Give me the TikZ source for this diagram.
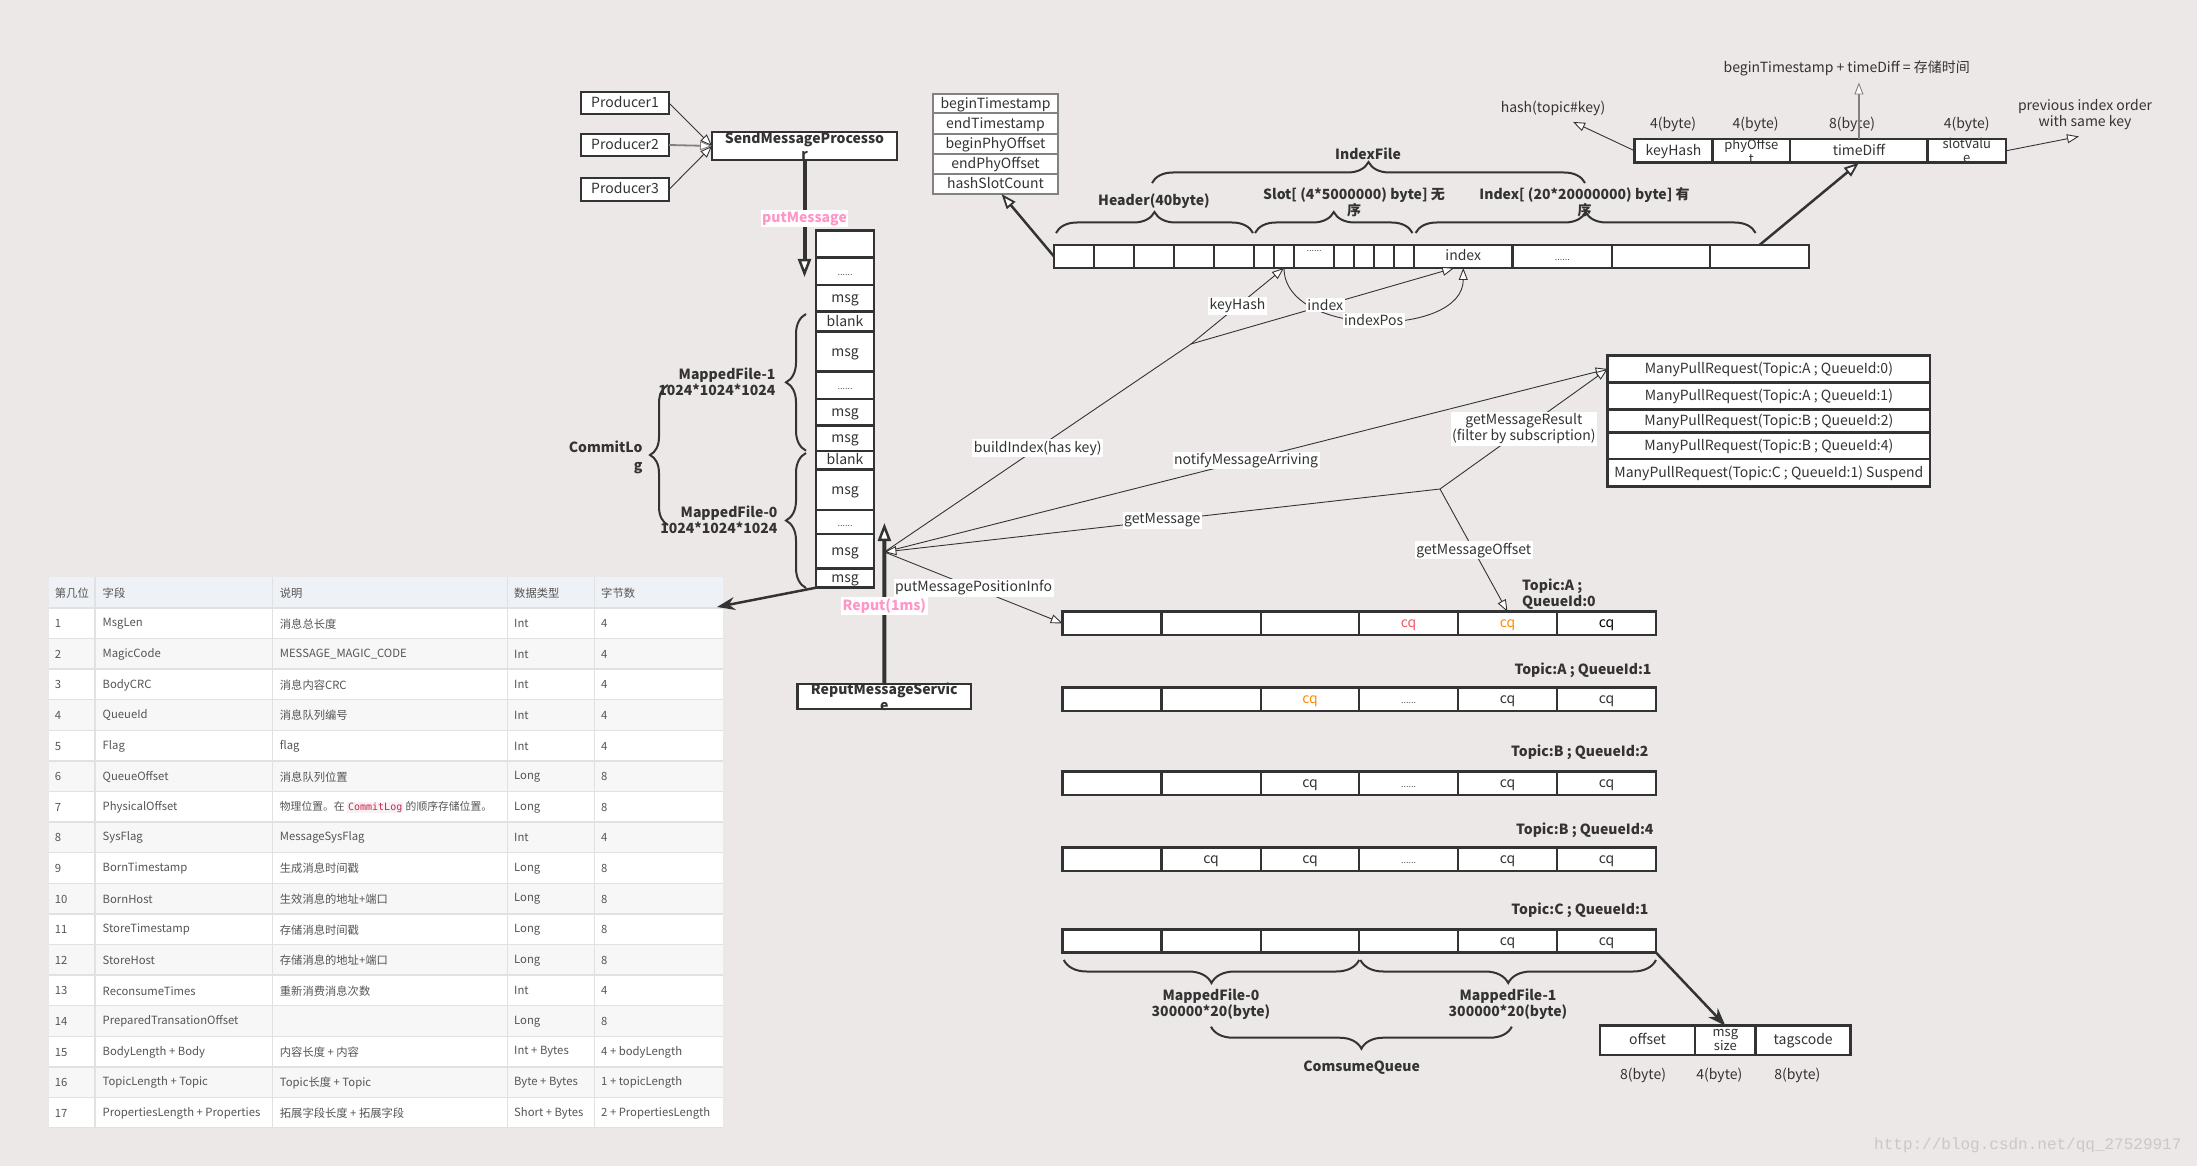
\documentclass[tikz,border=0pt]{standalone}
\usepackage{fontspec}
\setmainfont{Noto Sans CJK SC}
\newfontfamily\monof{DejaVu Sans Mono}
\newfontfamily\wmfont{Liberation Mono}
\newfontfamily\latf{Liberation Sans}
\usetikzlibrary{arrows.meta,decorations.pathreplacing,calc}
\definecolor{bgc}{RGB}{237,232,232}
\definecolor{dk}{RGB}{51,51,51}
\definecolor{pinkc}{RGB}{255,150,200}
\definecolor{cqred}{RGB}{240,90,110}
\definecolor{cqorg}{RGB}{255,140,0}
\definecolor{tgray}{RGB}{85,85,85}
\definecolor{thead}{RGB}{238,241,245}
\definecolor{trow}{RGB}{247,247,247}
\definecolor{tlinec}{RGB}{225,225,225}
\definecolor{codebg}{RGB}{249,242,244}
\definecolor{codefg}{RGB}{199,37,78}
\definecolor{hfgray}{RGB}{130,130,130}
\definecolor{wmc}{RGB}{205,198,198}
\newcommand\cel[6][]{\node[cell,minimum width=#4,minimum height=#5,anchor=north west,#1] (#2) at (#3) {#6};}
\newcommand\smdots{{\latf\fontsize{9}{10}\selectfont ......}}
\newcommand\qrow[8]{%
 \cel{#1c1}{1062.7,#2}{98.8}{23.3}{#3}%
 \cel{#1c2}{1161.5,#2}{99.3}{23.3}{#4}%
 \cel{#1c3}{1260.8,#2}{98.4}{23.3}{#5}%
 \cel{#1c4}{1359.2,#2}{98.8}{23.3}{#6}%
 \cel{#1c5}{1458,#2}{99}{23.3}{#7}%
 \cel{#1c6}{1557,#2}{99}{23.3}{#8}}
\newcommand\myrow[6]{%
  \pgfmathsetmacro\rtop{577.3+#1*30.6}%
  \pgfmathsetmacro\rmid{\rtop+15.8}%
  \pgfmathsetmacro\rbot{\rtop+30.6}%
  \ifnum#1=0\relax \fill[thead] (49,\rtop) rectangle (723,\rbot);%
  \else\ifodd#1\relax \fill[white] (49,\rtop) rectangle (723,\rbot);%
  \else \fill[trow] (49,\rtop) rectangle (723,\rbot);\fi
  \draw[tlinec, line width=1.5pt] (49,\rtop) -- (723,\rtop);\fi
  \node[tcell] (tr#1a) at (54.7,\rmid) {#2};%
  \node[tcell] (tr#1b) at (102.5,\rmid) {#3};%
  \node[tcell] (tr#1c) at (279.7,\rmid) {#4};%
  \node[tcell] (tr#1d) at (514,\rmid) {#5};%
  \node[tcell] (tr#1e) at (601,\rmid) {#6};%
}
\begin{document}
\begin{tikzpicture}[x=1pt,y=-1pt,
  every node/.style={font=\fontsize{14}{16}\selectfont, text=dk},
  cell/.style={draw=dk, line width=2.5pt, fill=white, inner sep=0pt, outer sep=0pt, text height=11pt, text depth=2pt},
  hfcell/.style={draw=hfgray, line width=1.8pt, fill=white, inner sep=0pt, outer sep=0pt},
  conn/.style={draw=dk, line width=0.9pt},
  oarr/.style={-{Triangle[length=12pt,width=9pt,fill=white,line width=0.9pt]}},
  thk/.style={draw=dk, line width=4pt},
  tharr/.style={-{Triangle[length=18pt,width=13pt,fill=white,line width=2.5pt]}},
  thk2/.style={draw=dk, line width=2.5pt},
  oarr2/.style={-{Triangle[length=15pt,width=11pt,fill=white,line width=1.8pt]}},
  farr/.style={-{Stealth[length=18pt,width=13pt]}},
  lbl/.style={fill=white, inner sep=1.5pt},
  plbl/.style={fill=white, inner sep=1.5pt, text=pinkc, font=\bfseries\fontsize{14}{16}\selectfont},
  blbl/.style={font=\bfseries\fontsize{14}{16}\selectfont, align=center},
  brc/.style={draw=dk, line width=2pt, decorate, decoration={brace, amplitude=#1}},
  brc/.default=20pt,
  tcell/.style={anchor=west, inner sep=0pt, text=tgray, font=\fontsize{11.3}{13}\selectfont},
  dots/.style={font=\latf\fontsize{9}{10}\selectfont},
]
\useasboundingbox (0,0) rectangle (2197,1166);
\fill[bgc] (0,0) rectangle (2197,1166);

% ---------- table ----------
\myrow{0}{第几位}{字段}{说明}{数据类型}{字节数}
\myrow{1}{1}{MsgLen}{消息总长度}{Int}{4}
\myrow{2}{2}{MagicCode}{MESSAGE\_MAGIC\_CODE}{Int}{4}
\myrow{3}{3}{BodyCRC}{消息内容CRC}{Int}{4}
\myrow{4}{4}{QueueId}{消息队列编号}{Int}{4}
\myrow{5}{5}{Flag}{flag}{Int}{4}
\myrow{6}{6}{QueueOffset}{消息队列位置}{Long}{8}
\myrow{7}{7}{PhysicalOffset}{{\fontsize{10.8}{13}\selectfont 物理位置。在 {\setlength\fboxsep{1pt}\colorbox{codebg}{\monof\fontsize{10}{12}\selectfont\color{codefg}CommitLog}} 的顺序存储位置。}}{Long}{8}
\myrow{8}{8}{SysFlag}{MessageSysFlag}{Int}{4}
\myrow{9}{9}{BornTimestamp}{生成消息时间戳}{Long}{8}
\myrow{10}{10}{BornHost}{生效消息的地址+端口}{Long}{8}
\myrow{11}{11}{StoreTimestamp}{存储消息时间戳}{Long}{8}
\myrow{12}{12}{StoreHost}{存储消息的地址+端口}{Long}{8}
\myrow{13}{13}{ReconsumeTimes}{重新消费消息次数}{Int}{4}
\myrow{14}{14}{PreparedTransationOffset}{}{Long}{8}
\myrow{15}{15}{BodyLength + Body}{内容长度 + 内容}{Int + Bytes}{4 + bodyLength}
\myrow{16}{16}{TopicLength + Topic}{Topic长度 + Topic}{Byte + Bytes}{1 + topicLength}
\myrow{17}{17}{PropertiesLength + Properties}{拓展字段长度 + 拓展字段}{Short + Bytes}{2 + PropertiesLength}
\draw[tlinec, line width=1.5pt] (49,1127.5) -- (723,1127.5);
\foreach \vx in {94.9,272.6,507.4,594.5} \draw[tlinec, line width=1.5pt] (\vx,577.3) -- (\vx,1127.5);

% ---------- producers ----------
\cel{p1}{581,92}{88}{22}{Producer1}
\cel{p2}{581,134}{88}{22}{Producer2}
\cel{p3}{581,178}{88}{23}{Producer3}
\cel{smp}{712,132}{185}{28}{}
\node[blbl] at (smp) {SendMessageProcesso\\r};
\draw[conn, oarr] (p1.east) -- (smp.west);
\draw[conn, draw=gray, line width=1.8pt, oarr] (p2.east) -- (smp.west);
\draw[conn, oarr] (p3.east) -- (smp.west);

% ---------- commit log stack ----------
\cel{s1}{816,230.7}{58}{27}{}
\cel{s2}{816,257.7}{58}{27.3}{\smdots}
\cel{s3}{816,285}{58}{26.7}{msg}
\cel{s4}{816,311.7}{58}{20}{blank}
\cel{s5}{816,331.7}{58}{40}{msg}
\cel{s6}{816,371.7}{58}{27.3}{\smdots}
\cel{s7}{816,399}{58}{26.7}{msg}
\cel{s8}{816,425.7}{58}{25.3}{msg}
\cel{s9}{816,451}{58}{18.3}{blank}
\cel{s10}{816,469.3}{58}{40.7}{msg}
\cel{s11}{816,510}{58}{24}{\smdots}
\cel{s12}{816,534}{58}{34.3}{msg}
\cel{s13}{816,568.3}{58}{19.4}{msg}

\draw[brc=20pt] (806,450.7) -- (806,314);
\draw[brc=20pt] (806,588) -- (806,453);
\draw[brc=18pt] (668,525) -- (668,385);
\node[blbl, align=right, anchor=east] at (779,381.5) {MappedFile-1\\1024*1024*1024};
\node[blbl, align=right, anchor=east] at (781,519.5) {MappedFile-0\\1024*1024*1024};
\node[blbl, align=right, anchor=east, font=\bfseries\fontsize{14}{18}\selectfont] at (646,457) {CommitLo\\g};

\coordinate (putend) at (804.5,277);
\draw[thk, tharr] (smp.south) -- (putend) node[plbl, pos=0.5] {putMessage};

\coordinate (tabtip) at (717,607);
\draw[thk2, farr] (s13.south west) -- (tabtip);

% ---------- reput ----------
\cel{rms}{797.7,684}{173.3}{25}{}
\node[blbl] at (rms) {ReputMessageServic\\e};

% ---------- index file header fields ----------
\cel[hfcell]{hf1}{933,94}{125}{19.3}{beginTimestamp}
\cel[hfcell]{hf2}{933,113.3}{125}{20.7}{endTimestamp}
\cel[hfcell]{hf3}{933,134}{125}{20}{beginPhyOffset}
\cel[hfcell]{hf4}{933,154}{125}{20}{endPhyOffset}
\cel[hfcell]{hf5}{933,174}{125}{20}{hashSlotCount}

% ---------- index file bar ----------
\cel{ic1}{1054,245}{40}{23}{}
\cel{ic2}{1094,245}{40}{23}{}
\cel{ic3}{1134,245}{40}{23}{}
\cel{ic4}{1174,245}{40}{23}{}
\cel{ic5}{1214,245}{40}{23}{}
\cel{sc1}{1254,245}{20}{23}{}
\cel{sc2}{1274,245}{20}{23}{}
\cel{sc3}{1294,245}{40}{23}{}
\cel{sc4}{1334,245}{20}{23}{}
\cel{sc5}{1354,245}{20}{23}{}
\cel{sc6}{1374,245}{20}{23}{}
\cel{sc7}{1394,245}{20}{23}{}
\cel{xc1}{1414,245}{98.5}{23}{index}
\cel{xc2}{1512.5,245}{99.5}{23}{\smdots}
\cel{xc3}{1612,245}{98}{23}{}
\cel{xc4}{1710,245}{99}{23}{}
\node[dots] at (1314,251) {......};

\draw[brc=21pt] (1056,233) -- (1253,233);
\draw[brc=21pt] (1255,233) -- (1412.5,233);
\draw[brc=21pt] (1415.6,233) -- (1755.6,233);
\draw[brc=21pt] (1152,183) -- (1585,183);
\node[blbl] at (1154,200.7) {Header(40byte)};
\node[blbl] at (1354,202) {Slot[ (4*5000000) byte] 无\\序};
\node[blbl] at (1584.5,202) {Index[ (20*20000000) byte] 有\\序};
\node[blbl] at (1368,154) {IndexFile};

\draw[thk2, oarr2] (ic1.west) -- ([xshift=6pt]hf5.south);

% ---------- index entry ----------
\cel{e1}{1634.7,139}{77.7}{23.7}{keyHash}
\cel{e2}{1712.4,139}{77.8}{23.7}{}
\cel{e3}{1790.2,139}{137.4}{23.7}{timeDiff}
\cel{e4}{1927.6,139}{78.2}{23.7}{}
\node[align=center, font=\fontsize{13}{14}\selectfont] at (e2) {phyOffse\\t};
\node[align=center, font=\fontsize{13}{14}\selectfont] at (e4) {slotValu\\e};
\node at (1673,124) {4(byte)};
\node at (1755.6,124) {4(byte)};
\node at (1852,124) {8(byte)};
\node at (1966.7,124) {4(byte)};
\node (hashlbl) at (1553,108) {hash(topic\#key)};
\node (tslbl) at (1846.7,68.3) {beginTimestamp + timeDiff = 存储时间};
\node[align=center] (prevlbl) at (2085,114.7) {previous index order\\with same key};
\draw[conn, oarr] (e1.west) -- ([xshift=20pt,yshift=-3pt]hashlbl.south);
\draw[draw=gray, line width=1.5pt, oarr] (e3.north) -- ([yshift=-3pt]e3.north |- tslbl.south);
\draw[conn, oarr] (e4.east) -- ([xshift=-6pt,yshift=-3pt]prevlbl.south);
\draw[thk2, oarr2] (xc4.north) -- (e3.south);

% ---------- many pull requests ----------
\cel{mpr1}{1607.7,355.7}{322.3}{26.6}{ManyPullRequest(Topic:A ; QueueId:0)}
\cel{mpr2}{1607.7,382.3}{322.3}{27}{ManyPullRequest(Topic:A ; QueueId:1)}
\cel{mpr3}{1607.7,409.3}{322.3}{23}{ManyPullRequest(Topic:B ; QueueId:2)}
\cel{mpr4}{1607.7,432.3}{322.3}{26.7}{ManyPullRequest(Topic:B ; QueueId:4)}
\cel{mpr5}{1607.7,459}{322.3}{27.7}{ManyPullRequest(Topic:C ; QueueId:1) Suspend}

% ---------- consume queues ----------
\qrow{q0}{611.7}{}{}{}{\color{cqred}cq}{\color{cqorg}cq}{\color{black}cq}
\qrow{q1}{687.7}{}{}{\color{cqorg}cq}{\smdots}{cq}{cq}
\qrow{q2}{771.7}{}{}{cq}{\smdots}{cq}{cq}
\qrow{q3}{847.7}{}{cq}{cq}{\smdots}{cq}{cq}
\qrow{q4}{929.3}{}{}{}{}{cq}{cq}
\node[blbl, align=left, anchor=west] at (1518.6,594) {Topic:A ;\\QueueId:0};
\node[blbl, anchor=east] at (1655,670.7) {Topic:A ; QueueId:1};
\node[blbl, anchor=east] at (1652,752.3) {Topic:B ; QueueId:2};
\node[blbl, anchor=east] at (1657,830) {Topic:B ; QueueId:4};
\node[blbl, anchor=east] at (1652,910.7) {Topic:C ; QueueId:1};

\draw[brc=23pt] (1359.2,960) -- (1063.8,960);
\draw[brc=23pt] (1656,960) -- (1360.4,960);
\draw[brc=22pt] (1511.8,1026.7) -- (1211,1026.7);
\node[blbl] at (1211,1004.7) {MappedFile-0\\300000*20(byte)};
\node[blbl] at (1508,1004.7) {MappedFile-1\\300000*20(byte)};
\node[blbl] at (1361.6,1067.3) {ComsumeQueue};

% ---------- cq entry ----------
\cel{en1}{1600,1025.7}{95}{29.3}{offset}
\cel{en2}{1695,1025.7}{60.7}{29.3}{}
\cel{en3}{1755.7,1025.7}{95}{29.3}{tagscode}
\node[align=center, font=\fontsize{13}{14}\selectfont] at (en2) {msg\\size};
\node at (1643,1075) {8(byte)};
\node at (1719.3,1075) {4(byte)};
\node at (1797.3,1075) {8(byte)};
\draw[thk2, farr] (q4c6.south east) -- (en2.north);

% ---------- connectors ----------
\coordinate (hub) at (884.4,552);
\coordinate (jidx) at (1191,344);
\coordinate (jget) at (1440,489);
\draw[conn, oarr] (sc2.south) .. controls +(0,70) and +(0,70) .. (xc1.south) node[lbl,pos=0.5] {indexPos};
\draw[conn] (hub) -- (jidx) node[lbl,pos=0.5] {buildIndex(has key)};
\draw[conn, oarr] (jidx) -- (sc2.south) node[lbl,pos=0.5] {keyHash};
\draw[conn, oarr] (jidx) -- ([xshift=-9pt]xc1.south) node[lbl,pos=0.51] {index};
\draw[conn, oarr] (hub) -- (mpr1.west) node[lbl,pos=0.5] {notifyMessageArriving};
\draw[conn, oarr] (jget) -- (mpr1.west) node[lbl,pos=0.5,align=center] {getMessageResult\\(filter by subscription)};
\draw[conn, oarr] (jget) -- (hub) node[lbl,pos=0.5] {getMessage};
\draw[conn, oarr] (jget) -- (q0c5.north) node[lbl,pos=0.5] {getMessageOffset};
\draw[conn, oarr] (hub) -- (q0c1.west) node[lbl,pos=0.5] {putMessagePositionInfo};

\coordinate (repend) at (884.4,523);
\draw[thk, tharr] (rms.north) -- (repend) node[plbl, pos=0.486] {Reput(1ms)};

\node[text=wmc, font=\wmfont\fontsize{16}{18}\selectfont, anchor=east] at (2185,1145) {http://blog.csdn.net/qq\_27529917};
\end{tikzpicture}
\end{document}
